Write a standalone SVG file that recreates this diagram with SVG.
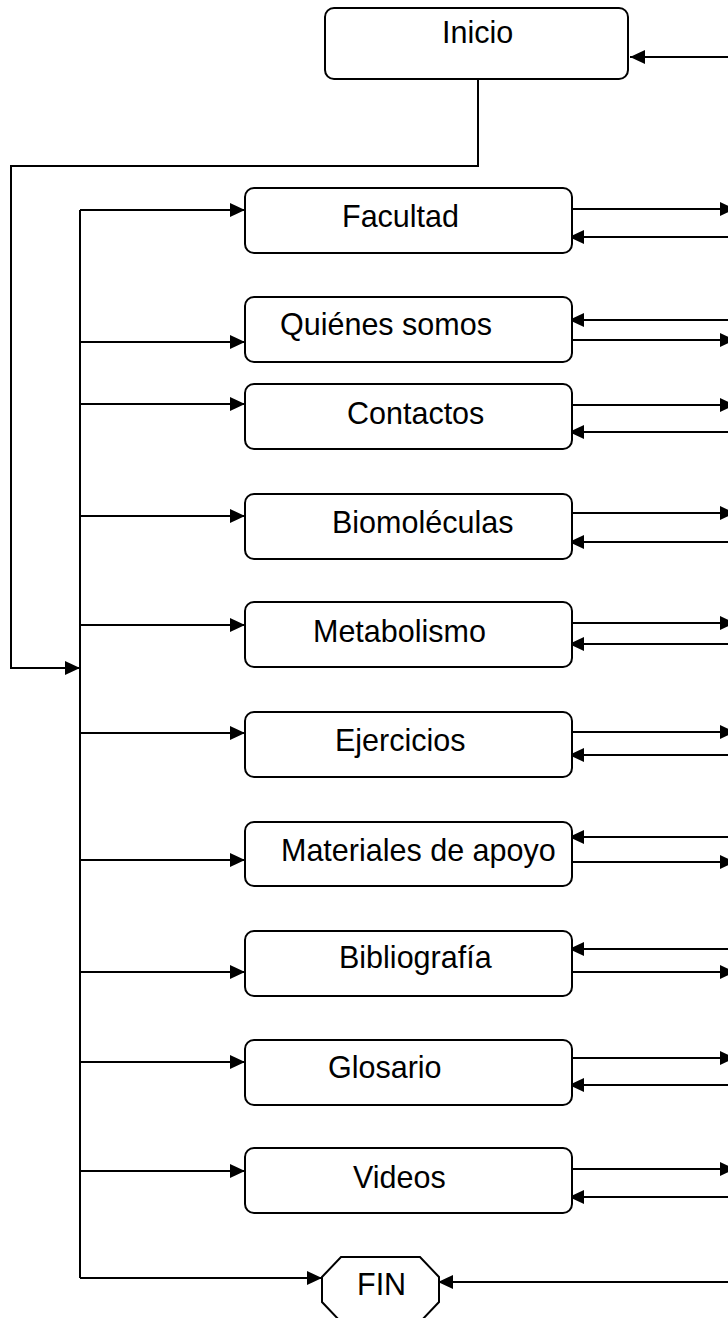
<svg xmlns="http://www.w3.org/2000/svg" width="728" height="1318" viewBox="0 0 728 1318">
<style>
.box{fill:#fff;stroke:#000;stroke-width:2}
.lbl{font-family:"Liberation Sans",Arial,sans-serif;font-size:30.5px;fill:#000}
.c{fill:none;stroke:#000;stroke-width:2}
</style>
<defs>
<marker id="ah" markerUnits="userSpaceOnUse" markerWidth="17" markerHeight="15" refX="15" refY="7" orient="auto" overflow="visible">
<path d="M0,0 L15,7 L0,14 z" fill="#000"/>
</marker>
</defs>
<rect width="728" height="1318" fill="#fff"/>
<g id="connectors">
<path class="c" d="M728,57 L630,57" marker-end="url(#ah)"/>
<path class="c" d="M478,79 L478,166 L11,166 L11,668 L80,668" marker-end="url(#ah)"/>
<path class="c" d="M80,210 L80,1278"/>
<path class="c" d="M80,210 L245,210" marker-end="url(#ah)"/>
<path class="c" d="M80,342 L245,342" marker-end="url(#ah)"/>
<path class="c" d="M80,404 L245,404" marker-end="url(#ah)"/>
<path class="c" d="M80,516 L245,516" marker-end="url(#ah)"/>
<path class="c" d="M80,625 L245,625" marker-end="url(#ah)"/>
<path class="c" d="M80,733 L245,733" marker-end="url(#ah)"/>
<path class="c" d="M80,860 L245,860" marker-end="url(#ah)"/>
<path class="c" d="M80,972 L245,972" marker-end="url(#ah)"/>
<path class="c" d="M80,1062 L245,1062" marker-end="url(#ah)"/>
<path class="c" d="M80,1171 L245,1171" marker-end="url(#ah)"/>
<path class="c" d="M80,1278 L322,1278" marker-end="url(#ah)"/>
<path class="c" d="M572,209 L735,209" marker-end="url(#ah)"/>
<path class="c" d="M728,237 L569,237" marker-end="url(#ah)"/>
<path class="c" d="M728,320 L569,320" marker-end="url(#ah)"/>
<path class="c" d="M572,340 L735,340" marker-end="url(#ah)"/>
<path class="c" d="M572,405 L735,405" marker-end="url(#ah)"/>
<path class="c" d="M728,432 L569,432" marker-end="url(#ah)"/>
<path class="c" d="M572,513 L735,513" marker-end="url(#ah)"/>
<path class="c" d="M728,542 L569,542" marker-end="url(#ah)"/>
<path class="c" d="M572,623 L735,623" marker-end="url(#ah)"/>
<path class="c" d="M728,644 L569,644" marker-end="url(#ah)"/>
<path class="c" d="M572,732 L735,732" marker-end="url(#ah)"/>
<path class="c" d="M728,755 L569,755" marker-end="url(#ah)"/>
<path class="c" d="M728,837 L569,837" marker-end="url(#ah)"/>
<path class="c" d="M572,862 L735,862" marker-end="url(#ah)"/>
<path class="c" d="M728,949 L569,949" marker-end="url(#ah)"/>
<path class="c" d="M572,972 L735,972" marker-end="url(#ah)"/>
<path class="c" d="M572,1058 L735,1058" marker-end="url(#ah)"/>
<path class="c" d="M728,1085 L569,1085" marker-end="url(#ah)"/>
<path class="c" d="M572,1169 L735,1169" marker-end="url(#ah)"/>
<path class="c" d="M728,1197 L569,1197" marker-end="url(#ah)"/>
<path class="c" d="M728,1282 L438,1282" marker-end="url(#ah)"/>
</g>
<g id="inicio"><rect class="box" x="325" y="8" width="303" height="71" rx="9"/><text class="lbl" x="442" y="43">Inicio</text></g>
<g id="facultad"><rect class="box" x="245" y="188" width="327" height="65" rx="9"/><text class="lbl" x="342" y="227">Facultad</text></g>
<g id="quienes"><rect class="box" x="245" y="297" width="327" height="65" rx="9"/><text class="lbl" x="280" y="335">Quiénes somos</text></g>
<g id="contactos"><rect class="box" x="245" y="384" width="327" height="65" rx="9"/><text class="lbl" x="347" y="424">Contactos</text></g>
<g id="biomoleculas"><rect class="box" x="245" y="494" width="327" height="65" rx="9"/><text class="lbl" x="332" y="533">Biomoléculas</text></g>
<g id="metabolismo"><rect class="box" x="245" y="602" width="327" height="65" rx="9"/><text class="lbl" x="313" y="642">Metabolismo</text></g>
<g id="ejercicios"><rect class="box" x="245" y="712" width="327" height="65" rx="9"/><text class="lbl" x="335" y="751">Ejercicios</text></g>
<g id="materiales"><rect class="box" x="245" y="822" width="327" height="64" rx="9"/><text class="lbl" x="281" y="861">Materiales de apoyo</text></g>
<g id="bibliografia"><rect class="box" x="245" y="931" width="327" height="65" rx="9"/><text class="lbl" x="339" y="968">Bibliografía</text></g>
<g id="glosario"><rect class="box" x="245" y="1040" width="327" height="65" rx="9"/><text class="lbl" x="328" y="1078">Glosario</text></g>
<g id="videos"><rect class="box" x="245" y="1148" width="327" height="65" rx="9"/><text class="lbl" x="353" y="1188">Videos</text></g>
<g id="fin"><polygon class="box" points="341,1257 420,1257 439,1277 439,1302 420,1322 341,1322 322,1302 322,1277"/><text class="lbl" x="357" y="1295">FIN</text></g>
</svg>
